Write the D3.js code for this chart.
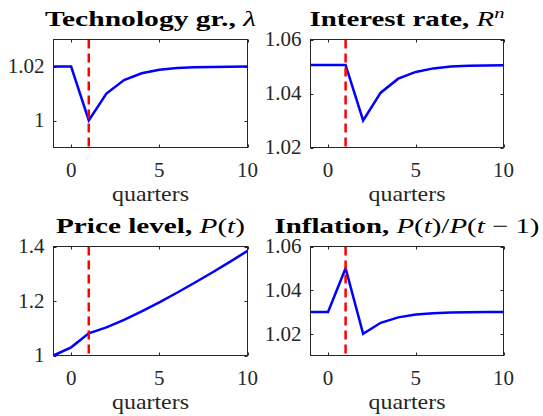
<!DOCTYPE html>
<html>
<head>
<meta charset="utf-8">
<script src="https://cdn.jsdelivr.net/npm/d3@7"></script>
<style>
  body { margin: 0; background: #fff; }
  text { font-family: "Liberation Serif", "Times New Roman", serif; }
</style>
</head>
<body>
<script>
// impulse responses, quarters -1 .. 10, shock hits in quarter 1
var quarters = [-1, 0, 1, 2, 3, 4, 5, 6, 7, 8, 9, 10];
var techGrowth   = [1.02, 1.02, 1.00, 1.01, 1.015, 1.0175, 1.0188, 1.0194, 1.0197, 1.0198, 1.0199, 1.02];
var interestRate = [1.0506, 1.0506, 1.0506, 1.0300, 1.0403, 1.0455, 1.0480, 1.0493, 1.0500, 1.0503, 1.0504, 1.0505];
var priceLevel   = [1.0, 1.03, 1.0815, 1.1031, 1.1307, 1.1618, 1.1952, 1.2303, 1.2669, 1.3047, 1.3437, 1.3839];
var inflation    = [1.03, 1.03, 1.05, 1.02, 1.025, 1.0275, 1.0288, 1.0294, 1.0297, 1.0298, 1.0299, 1.03];
var shockQuarter = 1;

var xTicks = [0, 5, 10];
var yDomains = [[0.99, 1.03], [1.02, 1.06], [1, 1.4], [1.01, 1.06]];
var yTicks = [[1, 1.02], [1.02, 1.04, 1.06], [1, 1.2, 1.4], [1.02, 1.04, 1.06]];
var xLabel = "quarters";

// title pieces: [text, style]  b = bold roman, i = math italic, r = math roman, s = superscript italic
var titles = [
  [["Technology gr., ", "b"], ["\u03bb", "i"]],
  [["Interest rate, ", "b"], ["R", "i"], ["n", "s"]],
  [["Price level, ", "b"], ["P", "i"], ["(", "r"], ["t", "i"], [")", "r"]],
  [["Inflation, ", "b"], ["P", "i"], ["(", "r"], ["t", "i"], [")/", "r"], ["P", "i"], ["(", "r"], ["t", "i"], [" \u2212 1)", "r"]]
];
var series = [techGrowth, interestRate, priceLevel, inflation];

var width = 543, height = 416;
var svg = d3.select("body").append("svg")
    .attr("width", width)
    .attr("height", height);

// the LaTeX fonts of the original run wider than Times, so stretch to match
var titleWidths = [211, 195, 189, 265];
var cols = [[53.5, 247.5], [310.5, 503.5]];
var rows = [[39.5, 147.5], [246.5, 355.5]];
var axisColor = "#262626";

series.forEach(function(values, k) {
  var c = cols[k % 2], r = rows[Math.floor(k / 2)];
  var x = d3.scaleLinear().domain([-1, 10]).range(c);
  var y = d3.scaleLinear().domain(yDomains[k]).range([r[1], r[0]]);
  var g = svg.append("g");

  // tick marks, inside, on all four sides
  g.selectAll(".xt").data(xTicks).enter().append("path")
      .attr("d", function(d) {
        var px = Math.round(x(d)) + 0.5;
        return "M" + px + "," + r[1] + "v-3M" + px + "," + r[0] + "v3";
      })
      .attr("stroke", axisColor).attr("fill", "none");
  g.selectAll(".yt").data(yTicks[k]).enter().append("path")
      .attr("d", function(d) {
        var py = Math.round(y(d)) + 0.5;
        return "M" + c[0] + "," + py + "h3M" + c[1] + "," + py + "h-3";
      })
      .attr("stroke", axisColor).attr("fill", "none");

  // data line
  g.append("path")
      .datum(values)
      .attr("fill", "none")
      .attr("stroke", "#0000ff")
      .attr("stroke-width", 2.5)
      .attr("d", d3.line()
        .x(function(d, i) { return x(quarters[i]); })
        .y(function(d) { return y(d); }));

  // shock marker
  g.append("line")
      .attr("x1", x(shockQuarter)).attr("x2", x(shockQuarter))
      .attr("y1", r[0]).attr("y2", r[1])
      .attr("stroke", "#ff0000")
      .attr("stroke-width", 2.5)
      .attr("stroke-dasharray", "9,5");

  // box
  g.append("rect")
      .attr("x", c[0]).attr("y", r[0])
      .attr("width", c[1] - c[0]).attr("height", r[1] - r[0])
      .attr("fill", "none").attr("stroke", axisColor);

  // tick labels
  g.selectAll(".xl").data(xTicks).enter().append("text")
      .attr("x", function(d) { return x(d); })
      .attr("y", r[1] + 29)
      .attr("text-anchor", "middle")
      .attr("font-size", 21)
      .attr("fill", axisColor)
      .text(function(d) { return d; });
  g.selectAll(".yl").data(yTicks[k]).enter().append("text")
      .attr("x", c[0] - 9)
      .attr("y", function(d) { return y(d); })
      .attr("dy", "0.33em")
      .attr("text-anchor", "end")
      .attr("font-size", 21)
      .attr("fill", axisColor)
      .text(function(d) { return d3.format("~g")(d); });

  g.append("text")
      .attr("x", (c[0] + c[1]) / 2)
      .attr("y", r[1] + 53)
      .attr("text-anchor", "middle")
      .attr("font-size", 21)
      .attr("textLength", 77)
      .attr("lengthAdjust", "spacingAndGlyphs")
      .attr("fill", axisColor)
      .text(xLabel);

  // title
  var t = g.append("text")
      .attr("x", (c[0] + c[1]) / 2)
      .attr("y", r[0] - 14)
      .attr("text-anchor", "middle")
      .attr("font-size", 21)
      .attr("textLength", titleWidths[k])
      .attr("lengthAdjust", "spacingAndGlyphs")
      .attr("fill", "#000");
  titles[k].forEach(function(p) {
    var s = t.append("tspan").text(p[0]);
    if (p[1] === "b") s.attr("font-weight", "bold");
    if (p[1] === "i") s.attr("font-style", "italic");
    if (p[1] === "s") s.attr("font-style", "italic").attr("font-size", 15).attr("dy", -8);
  });
});
</script>
</body>
</html>
